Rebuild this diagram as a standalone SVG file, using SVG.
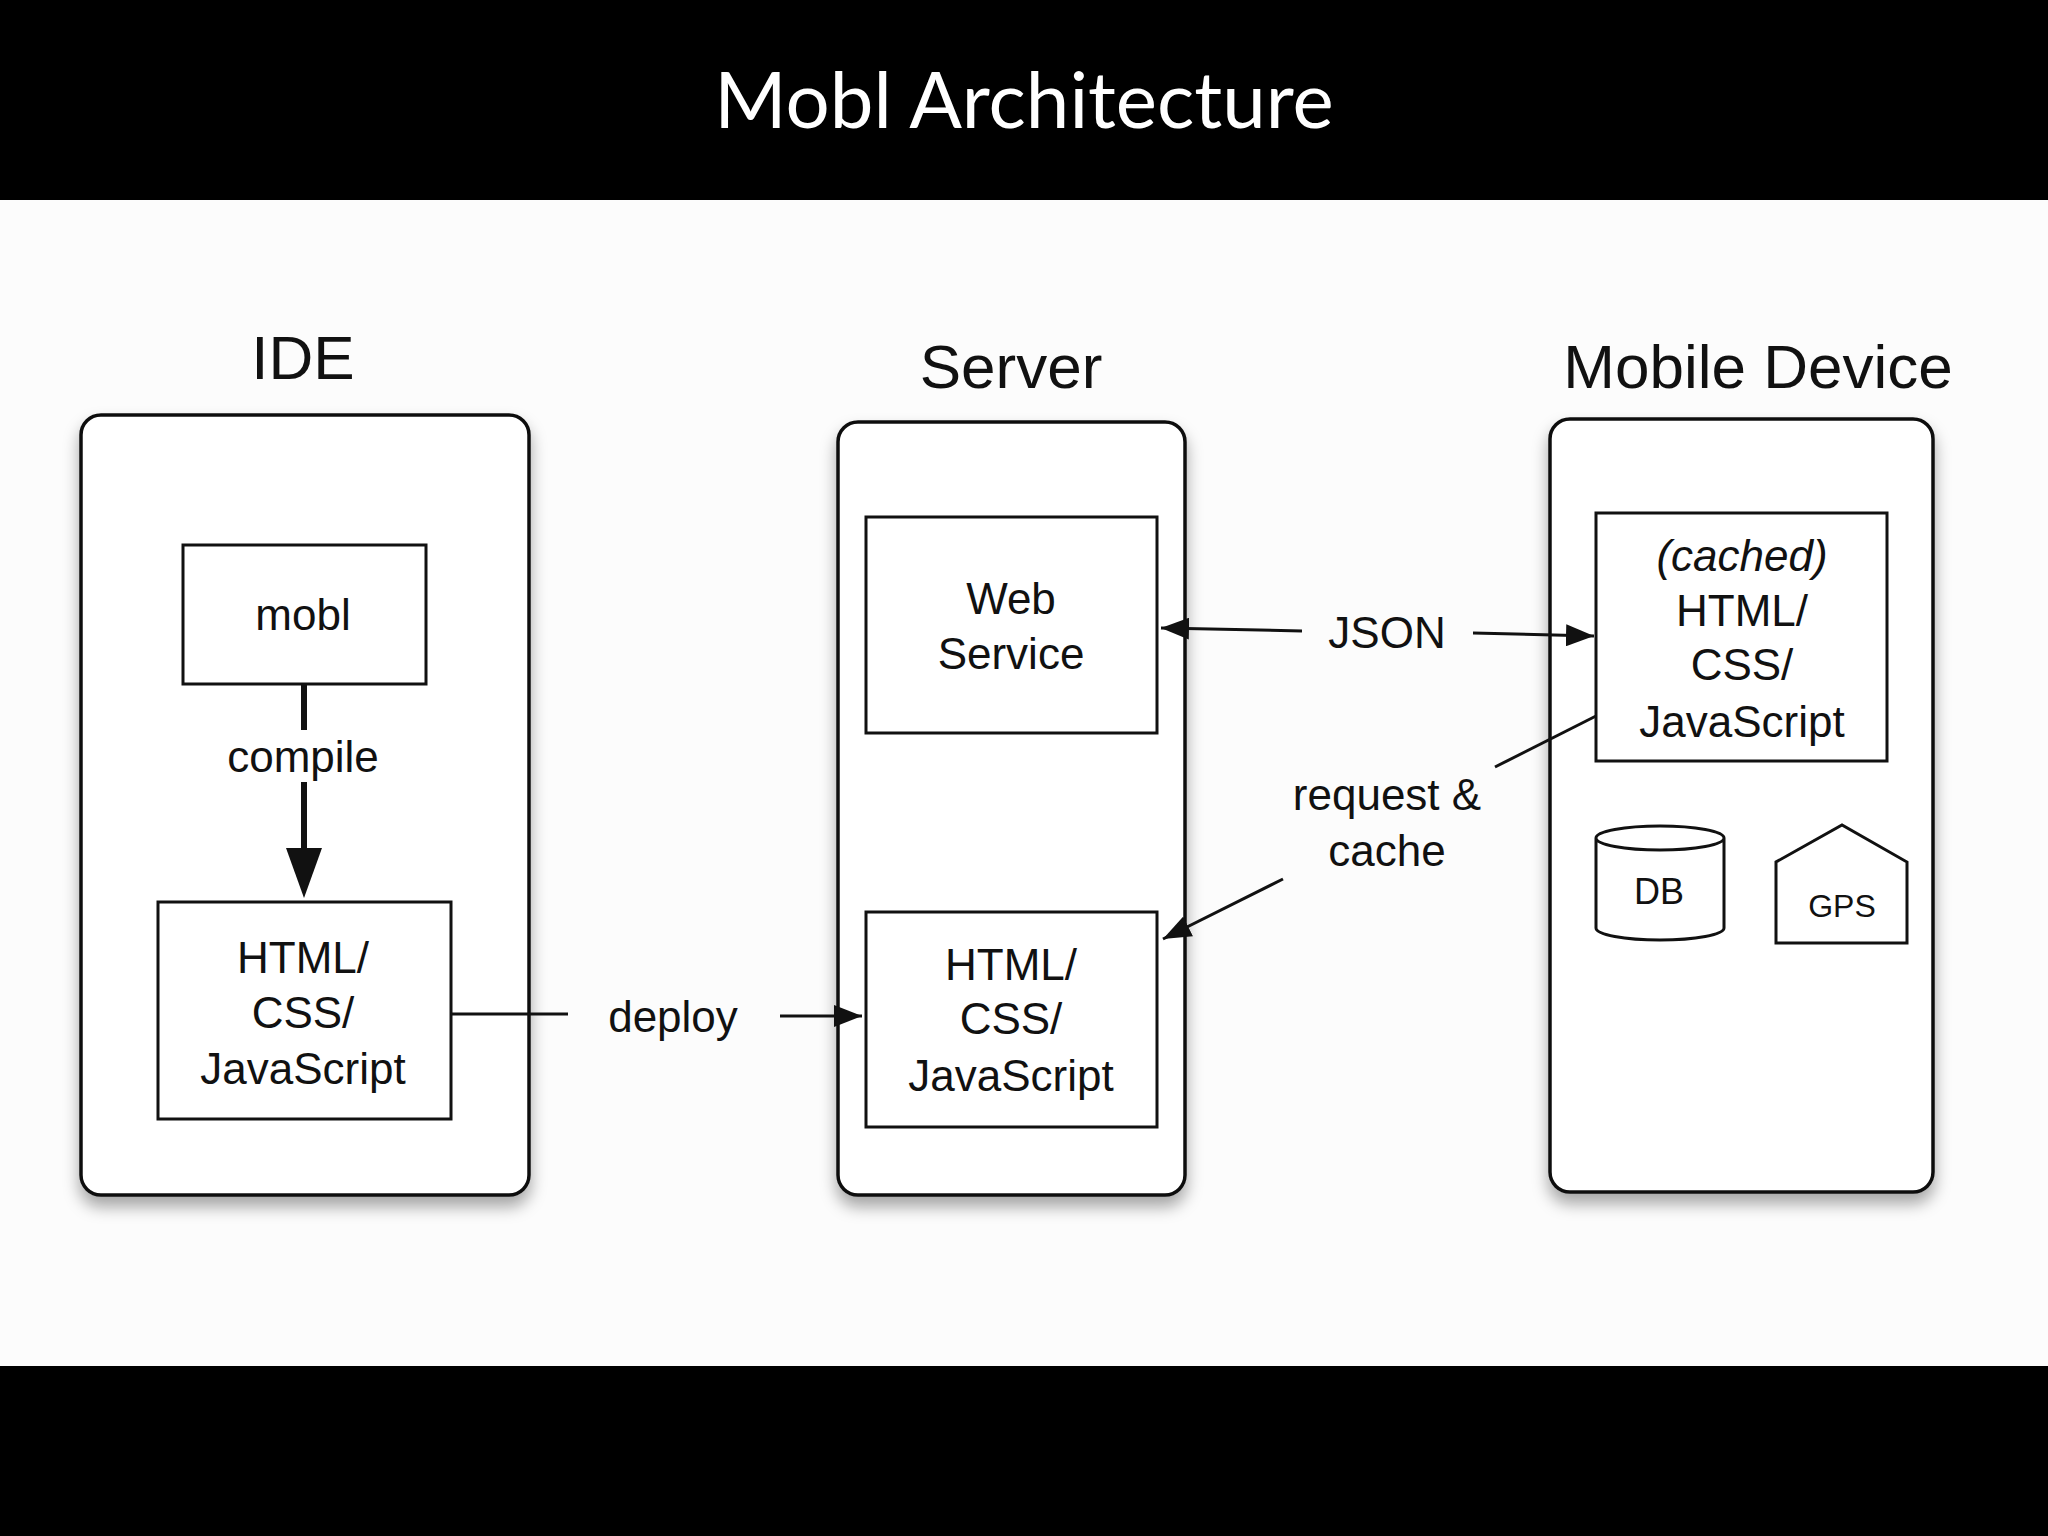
<svg xmlns="http://www.w3.org/2000/svg" width="2048" height="1536" viewBox="0 0 2048 1536">
<defs>
<style>
.t{font-family:"Liberation Sans",Arial,sans-serif;fill:#111;text-anchor:middle}
.s{font-size:44px}
.h{font-size:62px}
.b{fill:#fff;stroke:#111;stroke-width:3}
.p{fill:#fff;stroke:#111;stroke-width:3.5}
.c{stroke:#111;stroke-width:3;fill:none}
</style>
<marker id="ab" viewBox="0 0 10 10" refX="10" refY="5" markerWidth="28" markerHeight="22" orient="auto" markerUnits="userSpaceOnUse" preserveAspectRatio="none"><path d="M0,0L10,5L0,10z" fill="#111"/></marker>
<filter id="sh" x="-10%" y="-10%" width="120%" height="125%"><feDropShadow dx="0" dy="10" stdDeviation="8" flood-color="#000" flood-opacity="0.35"/></filter>
</defs>
<rect width="2048" height="1536" fill="#fcfcfc"/>
<rect width="2048" height="200" fill="#000"/>
<rect y="1366" width="2048" height="170" fill="#000"/>
<text x="1024" y="128" font-family="Lato,'Open Sans',sans-serif" font-size="78" fill="#fff" text-anchor="middle">Mobl Architecture</text>

<g id="ide">
<rect class="p" x="81" y="415" width="448" height="780" rx="20" filter="url(#sh)"/>
<text class="t h" x="303" y="379">IDE</text>
</g>
<g id="server">
<rect class="p" x="838" y="422" width="347" height="773" rx="20" filter="url(#sh)"/>
<text class="t h" x="1011" y="388">Server</text>
</g>
<g id="mobile">
<rect class="p" x="1550" y="419" width="383" height="773" rx="20" filter="url(#sh)"/>
<text class="t h" x="1758" y="388">Mobile Device</text>
</g>
<g id="mobl">
<rect class="b" x="183" y="545" width="243" height="139"/>
<text class="t s" x="303" y="630">mobl</text>
</g>
<g id="ide-html">
<rect class="b" x="158" y="902" width="293" height="217"/>
<text class="t s" x="303" y="973">HTML/</text>
<text class="t s" x="303" y="1028">CSS/</text>
<text class="t s" x="303" y="1084">JavaScript</text>
</g>
<g id="webservice">
<rect class="b" x="866" y="517" width="291" height="216"/>
<text class="t s" x="1011" y="614">Web</text>
<text class="t s" x="1011" y="669">Service</text>
</g>
<g id="server-html">
<rect class="b" x="866" y="912" width="291" height="215"/>
<text class="t s" x="1011" y="980">HTML/</text>
<text class="t s" x="1011" y="1034">CSS/</text>
<text class="t s" x="1011" y="1091">JavaScript</text>
</g>
<g id="cached">
<rect class="b" x="1596" y="513" width="291" height="248"/>
<text class="t s" x="1742" y="571" font-style="italic">(cached)</text>
<text class="t s" x="1742" y="626">HTML/</text>
<text class="t s" x="1742" y="680">CSS/</text>
<text class="t s" x="1742" y="737">JavaScript</text>
</g>
<g id="db">
<path class="b" d="M1596,838 V928 A64,12 0 0 0 1724,928 V838 A64,12 0 0 0 1596,838 Z M1596,838 A64,12 0 0 0 1724,838"/>
<text class="t" x="1659" y="904" font-size="36">DB</text>
</g>
<g id="gps">
<path class="b" d="M1776,943 V862 L1842,825 L1907,862 V943 Z"/>
<text class="t" x="1842" y="917" font-size="32">GPS</text>
</g>

<g id="connectors">
<path d="M304,684V730 M304,782V850" stroke="#111" stroke-width="6" fill="none"/>
<path d="M286,848 L304,898 L322,848 Z" fill="#111"/>
<text class="t s" x="303" y="772">compile</text>
<path class="c" d="M451,1014H568"/>
<path class="c" d="M780,1016H862" marker-end="url(#ab)"/>
<text class="t s" x="673" y="1032">deploy</text>
<path class="c" d="M1302,631L1161,628" marker-end="url(#ab)"/>
<text class="t s" x="1387" y="648">JSON</text>
<path class="c" d="M1473,633L1594,636" marker-end="url(#ab)"/>
<path class="c" d="M1596,716L1495,767"/>
<text class="t s" x="1387" y="810">request &amp;</text>
<text class="t s" x="1387" y="866">cache</text>
<path class="c" d="M1283,879L1163,939" marker-end="url(#ab)"/>
</g>
</svg>
